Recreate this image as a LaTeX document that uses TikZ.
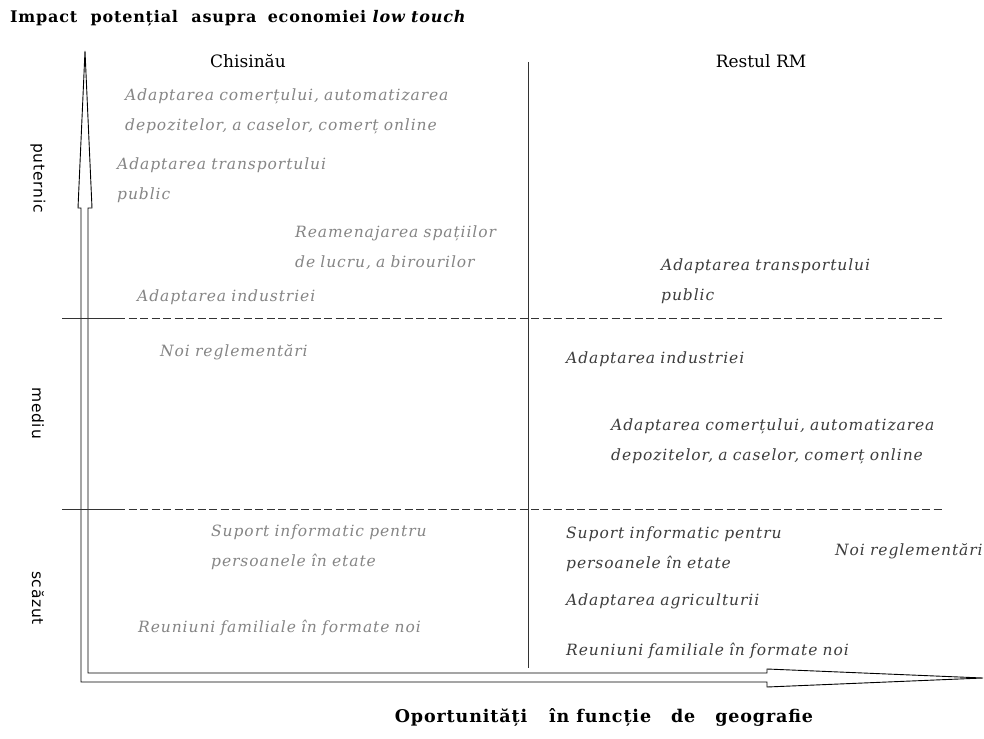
\documentclass[tikz,border=0pt]{standalone}
\usepackage{fontspec}
\setmainfont{DejaVu Serif}
\newfontfamily\itfam[LetterSpace=6]{DejaVu Serif}
\newfontfamily\ttlfam[LetterSpace=5]{DejaVu Serif}
\newfontfamily\labsans[LetterSpace=5]{DejaVu Sans}
\definecolor{lgray}{HTML}{858585}
\definecolor{dgray}{HTML}{3C3C3C}
\begin{document}
\begin{tikzpicture}[x=1pt,y=-1pt,
  lt/.style={font=\itfam\fontsize{15.5}{30}\selectfont\itshape, text=lgray, anchor=base west, inner sep=0pt, align=left, text width=400pt},
  rt/.style={lt, text=dgray},
  head/.style={font=\fontsize{17}{19}\selectfont, inner sep=0pt},
  side/.style={font=\labsans\fontsize{15.5}{17}\selectfont, rotate=-90, inner sep=0pt},
  axisline/.style={draw=black, line width=0.9pt, line join=miter},
  grid/.style={draw=black!80, line width=0.8pt},
  dashgrid/.style={grid, dash pattern=on 8pt off 3.5pt}]
\useasboundingbox (0,0) rectangle (984,738);
% titles
\node[font=\ttlfam\bfseries\fontsize{16}{18}\selectfont, anchor=west, inner sep=0pt] (title) at (10,18) {Impact\hspace{7pt} potențial\hspace{7pt} asupra\hspace{5pt} economiei \textit{low touch}};
\node[font=\ttlfam\bfseries\fontsize{17.5}{20}\selectfont, inner sep=0pt] (xtitle) at (604,718) {Oportunități\hspace{15pt} în funcție\hspace{13pt} de\hspace{13pt} geografie};
% axes
\draw[axisline] (88,673) -- (88,208) -- (92,208) -- (85,51) -- (78,208) -- (81,208) -- (81,682) -- (767,682) -- (767,687) -- (983,678) -- (767,669) -- (767,673) -- cycle;
% grid
\draw[grid] (528,62) -- (528,668);
\coordinate (d1a) at (62,318); \coordinate (d1b) at (117,318); \coordinate (d1c) at (942,318);
\coordinate (d2a) at (62,509); \coordinate (d2b) at (117,509); \coordinate (d2c) at (942,509);
\draw[grid] (d1a) -- (d1b);
\draw[dashgrid] (d1b) -- (d1c);
\draw[grid] (d2a) -- (d2b);
\draw[dashgrid] (d2b) -- (d2c);
% headers
\node[head] (hc) at (248,61) {Chisinău};
\node[head] (hr) at (761,61) {Restul RM};
% side labels
\node[side] (sp) at (38,178) {puternic};
\node[side] (sm) at (38,413) {mediu};
\node[side] (ss) at (38,598) {scăzut};
% left column
\node[lt] (l1) at (125,101) {Adaptarea comerțului, automatizarea\\depozitelor, a caselor, comerț online};
\node[lt] (l2) at (117,170) {Adaptarea transportului\\public};
\node[lt] (l3) at (295,237) {Reamenajarea spațiilor\\de lucru, a birourilor};
\node[lt] (l4) at (137,301) {Adaptarea industriei};
\node[lt] (l5) at (160,356) {Noi reglementări};
\node[lt] (l6) at (211,536) {Suport informatic pentru\\persoanele în etate};
\node[lt] (l7) at (138,632) {Reuniuni familiale în formate noi};
% right column
\node[rt] (r1) at (661,270) {Adaptarea transportului\\public};
\node[rt] (r2) at (566,363) {Adaptarea industriei};
\node[rt] (r3) at (611,430) {Adaptarea comerțului, automatizarea\\depozitelor, a caselor, comerț online};
\node[rt] (r4) at (566,538) {Suport informatic pentru\\persoanele în etate};
\node[rt] (r5) at (835,555) {Noi reglementări};
\node[rt] (r6) at (566,605) {Adaptarea agriculturii};
\node[rt] (r7) at (566,655) {Reuniuni familiale în formate noi};
\end{tikzpicture}
\end{document}
